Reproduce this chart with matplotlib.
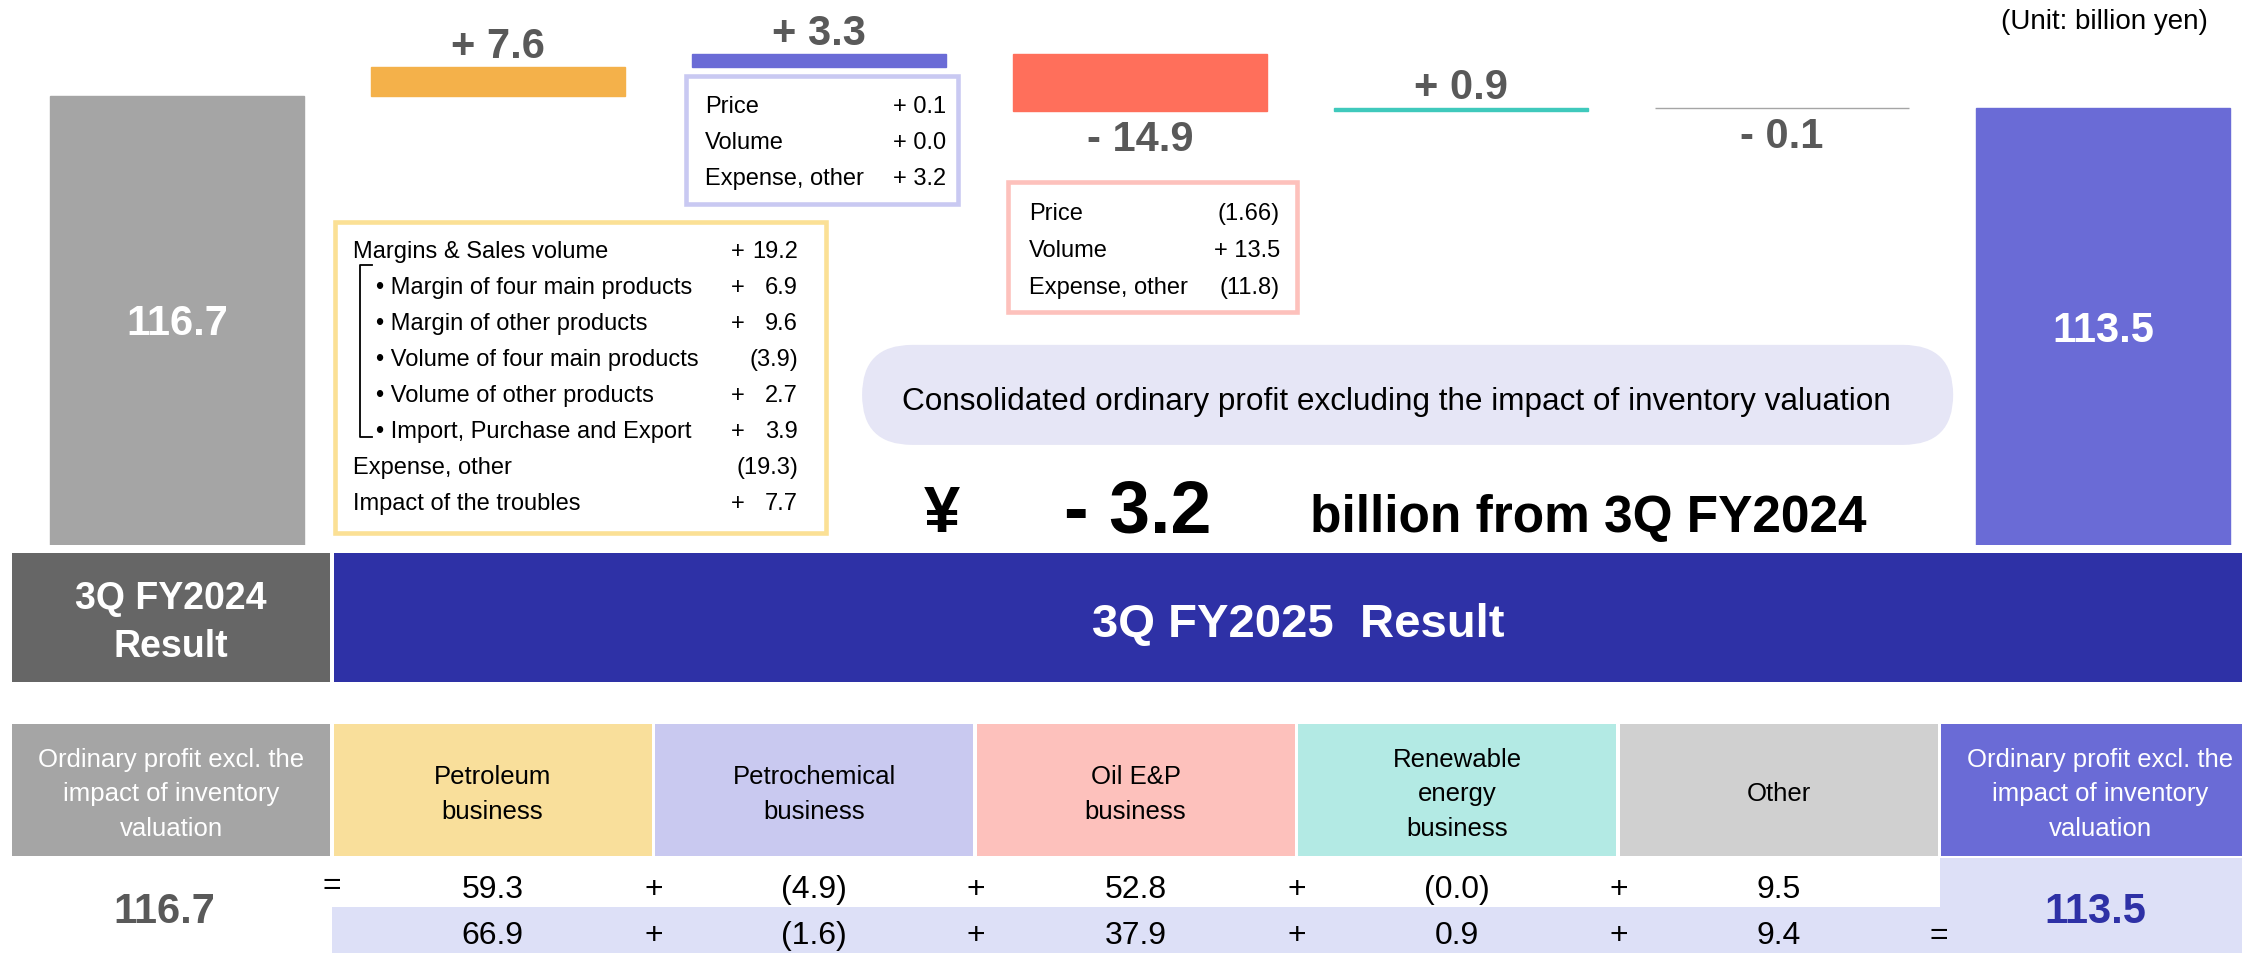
import matplotlib
matplotlib.use("Agg")
import matplotlib.pyplot as plt
from matplotlib.patches import Rectangle, FancyBboxPatch
import numpy as np

plt.rcParams['font.family'] = ['Liberation Sans', 'DejaVu Sans']

# ordinary profit excl. inventory valuation (billion yen)
start_value = 116.7
end_value = 113.5
deltas = [7.6, 3.3, -14.9, 0.9, -0.1]

# segment table
header_labels = ["Ordinary profit excl. the\nimpact of inventory\nvaluation",
                 "Petroleum\nbusiness", "Petrochemical\nbusiness", "Oil E&P\nbusiness",
                 "Renewable\nenergy\nbusiness", "Other",
                 "Ordinary profit excl. the\nimpact of inventory\nvaluation"]
fy2024_values = [59.3, -4.9, 52.8, -0.0, 9.5]
fy2025_values = [66.9, -1.6, 37.9, 0.9, 9.4]

# breakdown callouts
petroleum_items = ["Margins & Sales volume", "• Margin of four main products",
                   "• Margin of other products", "• Volume of four main products",
                   "• Volume of other products", "• Import, Purchase and Export",
                   "Expense, other", "Impact of the troubles"]
petroleum_vals = [19.2, 6.9, 9.6, -3.9, 2.7, 3.9, -19.3, 7.7]
petchem_items = ["Price", "Volume", "Expense, other"]
petchem_vals = [0.1, 0.0, 3.2]
oil_items = ["Price", "Volume", "Expense, other"]
oil_vals = [-1.66, 13.5, -11.8]

bar_colors = ["#a5a5a5", "#f4b14a", "#6a6bd6", "#ff6f5b", "#3fc9bc", "#a5a5a5", "#6a6bd6"]
header_colors = ["#a5a5a5", "#f9df9b", "#c9c9f0", "#fdc1bc", "#b3eae4", "#d0d0d0", "#6a6bd6"]
header_text = ["white", "black", "black", "black", "black", "black", "white"]
navy = "#2e31a6"
dark = "#595959"


def ndec(v):
    s = repr(abs(v))
    return max(1, len(s.split(".")[1])) if "." in s else 1


def fmt(v):
    if np.signbit(v):
        return "(" + f"{abs(v):.{ndec(v)}f}" + ")"
    return "+ " + f"{v:.{ndec(v)}f}"


def cap_px(size):
    return 0.716 * size * 100 / 72


W, H = 2242, 953
fig = plt.figure(figsize=(W / 100 + 0.002, H / 100 + 0.002), dpi=100)
bg = fig.add_axes([0, 0, 1, 1])
bg.set_xlim(0, W)
bg.set_ylim(H, 0)
bg.axis("off")


def ctext(x, y, s, size, **kw):
    # y is the visual centre of the capitals, in pixel rows
    bg.text(x, y + cap_px(size) / 2, s, va="baseline", fontsize=size, **kw)


# waterfall axes: baseline at pixel row 545
base_px = 545
px_per_unit = 449 / 116.7
pitch, x0 = 321, 177
wf = fig.add_axes([0, (H - base_px) / H, 1, base_px / H])
wf.set_xlim(-x0 / pitch, (W - x0) / pitch)
wf.set_ylim(0, base_px / px_per_unit)
wf.axis("off")

levels = np.concatenate([[start_value], start_value + np.cumsum(deltas)])
xs = np.arange(len(deltas) + 2)
heights = [start_value] + deltas + [end_value]
bottoms = [0] + list(levels[:-1]) + [0]
wf.bar(xs, heights, bottom=bottoms, width=254 / pitch, color=bar_colors,
       edgecolor=bar_colors, linewidth=1.0)

lab_size = 30
for i, d in enumerate(deltas):
    top = max(levels[i], levels[i + 1])
    bot = min(levels[i], levels[i + 1])
    if d >= 0:
        wf.annotate(f"+ {d:.1f}", (i + 1, top), xytext=(0, 6.3), textcoords="offset points",
                    ha="center", va="baseline", fontsize=lab_size, fontweight="bold", color=dark)
    else:
        off = (10 + cap_px(lab_size)) * 0.72
        wf.annotate(f"- {abs(d):.1f}", (i + 1, bot), xytext=(0, -off), textcoords="offset points",
                    ha="center", va="baseline", fontsize=lab_size, fontweight="bold", color=dark)

for xi, v in [(0, start_value), (xs[-1], end_value)]:
    wf.annotate(f"{v:.1f}", (xi, v / 2), xytext=(0, -cap_px(30) / 2 * 0.72),
                textcoords="offset points", ha="center", va="baseline",
                fontsize=30, fontweight="bold", color="white")

ctext(2208, 19, "(Unit: billion yen)", 20, ha="right")


# callout boxes
def callout(x, y, w, h, edge):
    bg.add_patch(Rectangle((x, y), w, h, facecolor="white", edgecolor=edge, linewidth=3.3))


box_fs = 17
callout(686, 76, 272, 128, "#c9c9f2")
for i, (lab, v) in enumerate(zip(petchem_items, petchem_vals)):
    yy = 105 + 36 * i
    ctext(705, yy, lab, box_fs, ha="left")
    ctext(946, yy, fmt(v), box_fs, ha="right")

callout(1008, 182, 289, 130, "#fdc1bc")
for i, (lab, v) in enumerate(zip(oil_items, oil_vals)):
    yy = 212 + 36.5 * i
    ctext(1029, yy, lab, box_fs, ha="left")
    ctext(1280, yy, fmt(v), box_fs, ha="right")

callout(334.5, 222.5, 491, 311, "#fbe095")
for i, (lab, v) in enumerate(zip(petroleum_items, petroleum_vals)):
    yy = 249.5 + 36 * i
    bx = 376 if lab.startswith("•") else 353
    ctext(bx, yy, lab, box_fs, ha="left")
    if np.signbit(v):
        ctext(798, yy, f"({abs(v):.1f})", box_fs, ha="right")
    else:
        ctext(738, yy, "+", box_fs, ha="center")
        ctext(798, yy, f"{v:.1f}", box_fs, ha="right")
bg.plot([372, 360, 360, 372], [265, 265, 437, 437], color="black", linewidth=1.3)

# summary pill
bg.add_patch(FancyBboxPatch((862, 345), 1091, 100, boxstyle="round,pad=0,rounding_size=50",
                            facecolor="#e6e6f6", edgecolor="none"))
ctext(1396, 399, "Consolidated ordinary profit excluding the impact of inventory valuation",
      22.7, ha="center")
change = end_value - start_value
bg.text(942, 532, "¥", ha="center", va="baseline", fontsize=47, fontweight="bold")
bg.text(1138, 532, f"- {abs(change):.1f}", ha="center", va="baseline", fontsize=53, fontweight="bold")
bg.text(1310, 532, "billion from 3Q FY2024", ha="left", va="baseline", fontsize=37, fontweight="bold")

# period band
bg.add_patch(Rectangle((12, 553), 318, 129, facecolor="#666666", edgecolor="none"))
bg.add_patch(Rectangle((334, 553), W - 334, 129, facecolor=navy, edgecolor="none"))
ctext(171, 595, "3Q FY2024", 27, ha="center", fontweight="bold", color="white")
ctext(171, 643, "Result", 27, ha="center", fontweight="bold", color="white")
ctext(1298, 620, "3Q FY2025  Result", 34, ha="center", fontweight="bold", color="white")

# segment table
lefts = [12 + 321.5 * i for i in range(7)]
widths = [318] * 6 + [330]
head_fs = 18.5
for i, lab in enumerate(header_labels):
    bg.add_patch(Rectangle((lefts[i], 724), widths[i], 132, facecolor=header_colors[i], edgecolor="none"))
    cx = lefts[i] + 318 / 2
    lines = lab.split("\n")
    for k, line in enumerate(lines):
        yy = 792 + 34.5 * (k - (len(lines) - 1) / 2)
        ctext(cx, yy, line, head_fs, ha="center", color=header_text[i])

bg.add_patch(Rectangle((332, 907), 1608, 46, facecolor="#dde0f7", edgecolor="none"))
bg.add_patch(Rectangle((1940, 858), 330, 95, facecolor="#dde0f7", edgecolor="none"))

val_fs = 23
row_y = [886, 932.5]
for r, vals in enumerate([fy2024_values, fy2025_values]):
    for j, v in enumerate(vals):
        cx = lefts[j + 1] + 318 / 2
        txt = f"({abs(v):.1f})" if np.signbit(v) else f"{v:.1f}"
        ctext(cx, row_y[r], txt, val_fs, ha="center")
        if j < len(vals) - 1:
            ctext(lefts[j + 2] - 1, row_y[r], "+", val_fs, ha="center")
ctext(lefts[1] - 2, row_y[0] - 4, "=", val_fs, ha="center")
ctext(lefts[6] - 2, row_y[1], "=", val_fs, ha="center")
ctext(164, 908, f"{start_value:.1f}", 30, ha="center", fontweight="bold", color=dark)
ctext(2095, 908, f"{end_value:.1f}", 30, ha="center", fontweight="bold", color=navy)

fig.savefig("out.png", dpi=100)
